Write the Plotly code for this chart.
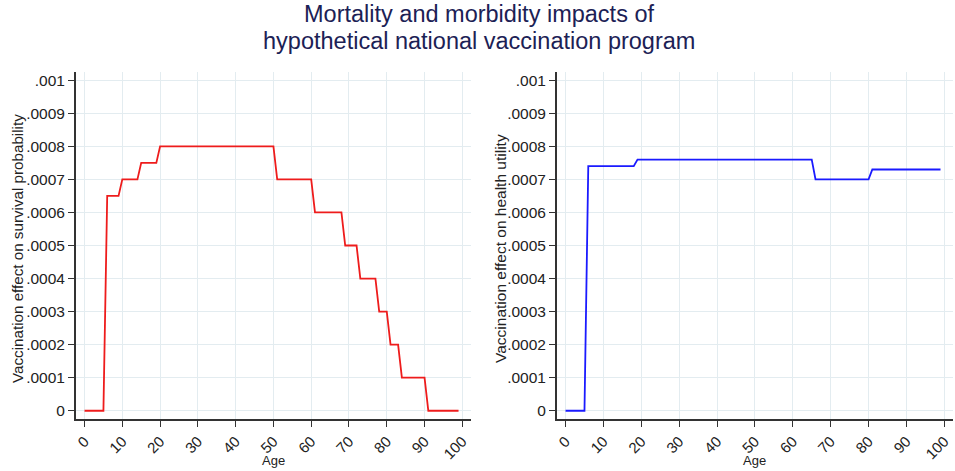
import plotly.graph_objects as go

ages = list(range(100))

survival_effect = [
    0, 0, 0, 0, 0, 0,
    0.00065, 0.00065, 0.00065, 0.00065,
    0.0007, 0.0007, 0.0007, 0.0007, 0.0007,
    0.00075, 0.00075, 0.00075, 0.00075, 0.00075,
    0.0008, 0.0008, 0.0008, 0.0008, 0.0008, 0.0008, 0.0008, 0.0008, 0.0008, 0.0008,
    0.0008, 0.0008, 0.0008, 0.0008, 0.0008, 0.0008, 0.0008, 0.0008, 0.0008, 0.0008,
    0.0008, 0.0008, 0.0008, 0.0008, 0.0008, 0.0008, 0.0008, 0.0008, 0.0008, 0.0008,
    0.0008,
    0.0007, 0.0007, 0.0007, 0.0007, 0.0007, 0.0007, 0.0007, 0.0007, 0.0007, 0.0007,
    0.0006, 0.0006, 0.0006, 0.0006, 0.0006, 0.0006, 0.0006, 0.0006,
    0.0005, 0.0005, 0.0005, 0.0005,
    0.0004, 0.0004, 0.0004, 0.0004, 0.0004,
    0.0003, 0.0003, 0.0003,
    0.0002, 0.0002, 0.0002,
    0.0001, 0.0001, 0.0001, 0.0001, 0.0001, 0.0001, 0.0001,
    0, 0, 0, 0, 0, 0, 0, 0, 0,
]

utility_effect = [
    0, 0, 0, 0, 0, 0,
    0.00074, 0.00074, 0.00074, 0.00074, 0.00074, 0.00074, 0.00074, 0.00074, 0.00074,
    0.00074, 0.00074, 0.00074, 0.00074,
    0.00076, 0.00076, 0.00076, 0.00076, 0.00076, 0.00076, 0.00076, 0.00076, 0.00076,
    0.00076, 0.00076, 0.00076, 0.00076, 0.00076, 0.00076, 0.00076, 0.00076, 0.00076,
    0.00076, 0.00076, 0.00076, 0.00076, 0.00076, 0.00076, 0.00076, 0.00076, 0.00076,
    0.00076, 0.00076, 0.00076, 0.00076, 0.00076, 0.00076, 0.00076, 0.00076, 0.00076,
    0.00076, 0.00076, 0.00076, 0.00076, 0.00076, 0.00076, 0.00076, 0.00076, 0.00076,
    0.00076, 0.00076,
    0.0007, 0.0007, 0.0007, 0.0007, 0.0007, 0.0007, 0.0007, 0.0007, 0.0007, 0.0007,
    0.0007, 0.0007, 0.0007, 0.0007, 0.0007,
    0.00073, 0.00073, 0.00073, 0.00073, 0.00073, 0.00073, 0.00073, 0.00073, 0.00073,
    0.00073, 0.00073, 0.00073, 0.00073, 0.00073, 0.00073, 0.00073, 0.00073, 0.00073,
    0.00073,
]

x_ticks = [0, 10, 20, 30, 40, 50, 60, 70, 80, 90, 100]
x_ticklabels = ["0", "10", "20", "30", "40", "50", "60", "70", "80", "90", "100"]
y_ticks = [0, 0.0001, 0.0002, 0.0003, 0.0004, 0.0005, 0.0006, 0.0007, 0.0008, 0.0009, 0.001]
y_ticklabels = ["0", ".0001", ".0002", ".0003", ".0004", ".0005", ".0006", ".0007", ".0008", ".0009", ".001"]

title_line1 = "Mortality and morbidity impacts of"
title_line2 = "hypothetical national vaccination program"
left_ytitle = "Vaccination effect on survival probability"
right_ytitle = "Vaccination effect on health utility"
xtitle = "Age"

FONT = "Liberation Sans, Arial, sans-serif"
W, H = 955, 471

fig = go.Figure()
fig.add_trace(go.Scatter(x=ages, y=survival_effect, mode="lines",
                         line=dict(color="#ee1c1c", width=1.8),
                         xaxis="x", yaxis="y", showlegend=False))
fig.add_trace(go.Scatter(x=ages, y=utility_effect, mode="lines",
                         line=dict(color="#1a1aff", width=1.8),
                         xaxis="x2", yaxis="y2", showlegend=False))

def px_x(p):
    return p / W

def px_y(p):
    return (H - p) / H

xdom1 = [px_x(74), px_x(470)]
xdom2 = [px_x(556), px_x(953)]
ydom = [px_y(419), px_y(72)]

xaxis_common = dict(
    range=[-2.3, 102.3], tickmode="array", tickvals=x_ticks, ticktext=x_ticklabels,
    tickangle=-45, ticks="outside", ticklen=6, tickcolor="#333", tickwidth=1,
    showline=True, linecolor="#333", linewidth=1.5, showgrid=True,
    gridcolor="#e3ecf0", gridwidth=1, zeroline=False,
    tickfont=dict(family=FONT, size=15, color="#222"),
)
yaxis_common = dict(
    range=[-0.000025, 0.001025], tickmode="array", tickvals=y_ticks, ticktext=y_ticklabels,
    ticks="outside", ticklen=6, tickcolor="#333", tickwidth=1,
    showline=True, linecolor="#333", linewidth=1.5, showgrid=True,
    gridcolor="#e3ecf0", gridwidth=1, zeroline=False,
    tickfont=dict(family=FONT, size=15.5, color="#222"),
)

fig.update_layout(
    width=W, height=H,
    margin=dict(l=0, r=0, t=0, b=0),
    paper_bgcolor="white", plot_bgcolor="white",
    font=dict(family=FONT, color="#222"),
    xaxis=dict(domain=xdom1, anchor="y", **xaxis_common),
    yaxis=dict(domain=ydom, anchor="x", **yaxis_common),
    xaxis2=dict(domain=xdom2, anchor="y2", **xaxis_common),
    yaxis2=dict(domain=ydom, anchor="x2", **yaxis_common),
    annotations=[
        dict(text=title_line1, x=0.5, y=px_y(14.5), xref="paper", yref="paper",
             xanchor="center", yanchor="middle", showarrow=False,
             font=dict(family=FONT, size=23.5, color="#1c2155")),
        dict(text=title_line2, x=0.5, y=px_y(41.5), xref="paper", yref="paper",
             xanchor="center", yanchor="middle", showarrow=False,
             font=dict(family=FONT, size=23.5, color="#1c2155")),
        dict(text=left_ytitle, x=px_x(15), y=px_y(248), xref="paper", yref="paper",
             xanchor="center", yanchor="middle", textangle=-90, showarrow=False,
             font=dict(family=FONT, size=15.2, color="#222")),
        dict(text=right_ytitle, x=px_x(499), y=px_y(248), xref="paper", yref="paper",
             xanchor="center", yanchor="middle", textangle=-90, showarrow=False,
             font=dict(family=FONT, size=15.5, color="#222")),
        dict(text=xtitle, x=px_x(272), y=px_y(460), xref="paper", yref="paper",
             xanchor="center", yanchor="middle", showarrow=False,
             font=dict(family=FONT, size=13, color="#222")),
        dict(text=xtitle, x=px_x(754.5), y=px_y(460), xref="paper", yref="paper",
             xanchor="center", yanchor="middle", showarrow=False,
             font=dict(family=FONT, size=13, color="#222")),
    ],
)

fig.write_html("out.html", config={"displayModeBar": False},
               post_script="document.body.style.margin='0px';document.body.style.overflow='hidden';")
